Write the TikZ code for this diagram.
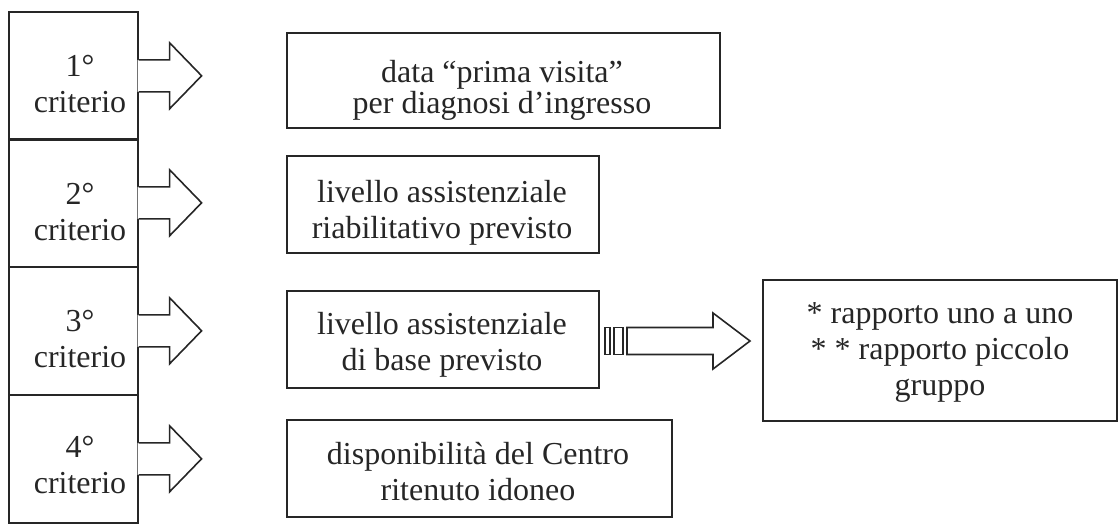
\documentclass[tikz,border=0pt]{standalone}
\usepackage{fontspec}
\setmainfont{Liberation Serif}
\usetikzlibrary{calc}
\begin{document}
\begin{tikzpicture}[x=1pt,y=-1pt,
  ln/.style={draw=black!85, line width=1.6pt},
  cell/.style={ln, minimum width=129pt, minimum height=128pt, inner sep=0pt, anchor=north west},
  tbox/.style={ln, inner sep=0pt, anchor=north west},
  txt/.style={font=\fontsize{32}{36}\selectfont, text=black!85, align=center, inner sep=0pt},
  txtt/.style={font=\fontsize{32}{29}\selectfont, text=black!85, align=center, inner sep=0pt}]
\useasboundingbox (0,0) rectangle (1118,523);
% left column cells
\node[cell] (c1) at (8,11) {};
\node[cell] (c2) at (8,138) {};
\node[cell] (c3) at (8,266) {};
\node[cell] (c4) at (8,394) {};
\node[txt, anchor=base] (l1) at (80,112) {1°\\criterio};
\node[txt, anchor=base] (l2) at (80,240) {2°\\criterio};
\node[txt, anchor=base] (l3) at (80,367) {3°\\criterio};
\node[txt, anchor=base] (l4) at (80,493) {4°\\criterio};
% block arrows
\foreach \c in {c1,c2,c3,c4}{
  \fill[white] ($(\c.east)+(-1,-16)$) -- ($(\c.east)+(31,-16)$) -- ($(\c.east)+(31,-33)$)
     -- ($(\c.east)+(63,0)$) -- ($(\c.east)+(31,33)$) -- ($(\c.east)+(31,16)$) -- ($(\c.east)+(-1,16)$) -- cycle;
  \draw[ln, line join=miter] ($(\c.east)+(0,-16)$) -- ($(\c.east)+(31,-16)$) -- ($(\c.east)+(31,-33)$)
     -- ($(\c.east)+(63,0)$) -- ($(\c.east)+(31,33)$) -- ($(\c.east)+(31,16)$) -- ($(\c.east)+(0,16)$);
}
% right boxes
\node[tbox, minimum width=433pt, minimum height=95pt] (b1) at (286,32) {};
\node[txtt, anchor=base] (t1) at (502,113) {data “prima visita”\\per diagnosi d’ingresso};
\node[tbox, minimum width=312pt, minimum height=97pt] (b2) at (286,155) {};
\node[txt, anchor=base] (t2) at (442,238) {livello assistenziale\\riabilitativo previsto};
\node[tbox, minimum width=312pt, minimum height=97pt] (b3) at (286,290) {};
\node[txt, anchor=base] (t3) at (442,370) {livello assistenziale\\di base previsto};
\node[tbox, minimum width=385pt, minimum height=97pt] (b4) at (286,419) {};
\node[txt, anchor=base] (t4) at (478,500) {disponibilità del Centro\\ritenuto idoneo};
\node[tbox, minimum width=354pt, minimum height=141pt] (b5) at (762,279) {};
\node[txt, anchor=base] (t5) at (940,395) {* rapporto uno a uno\\* * rapporto piccolo\\gruppo};
% striped arrow
\draw[ln, line width=1.3pt] (605,327.5) rectangle (610,354.5);
\draw[ln, line width=1.3pt] (614,327.5) rectangle (623,354.5);
\draw[ln, line join=miter] (627,327.5) -- (713,327.5) -- (713,313) -- (750,341) -- (713,369) -- (713,354.5) -- (627,354.5) -- cycle;
\end{tikzpicture}
\end{document}
